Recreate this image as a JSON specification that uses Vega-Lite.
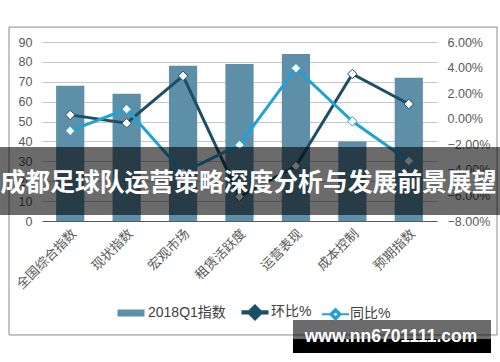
{
  "$schema": "https://vega.github.io/schema/vega-lite/v6.json",
  "width": 395,
  "height": 179,
  "autosize": {"type": "none"},
  "padding": {"left": 42, "top": 42, "right": 63, "bottom": 141},
  "background": "white",
  "config": {
    "view": {"stroke": null},
    "font": "Liberation Sans, Noto Sans CJK SC",
    "axis": {"labelFont": "Liberation Sans, Noto Sans CJK SC", "labelColor": "#595959", "titleColor": "#595959"}
  },
  "datasets": {
    "bars": [
      {"cat": "全国综合指数", "series": "2018Q1指数", "value": 68},
      {"cat": "现状指数", "series": "2018Q1指数", "value": 64},
      {"cat": "宏观市场", "series": "2018Q1指数", "value": 78},
      {"cat": "租赁活跃度", "series": "2018Q1指数", "value": 79},
      {"cat": "运营表现", "series": "2018Q1指数", "value": 84},
      {"cat": "成本控制", "series": "2018Q1指数", "value": 40},
      {"cat": "预期指数", "series": "2018Q1指数", "value": 72}
    ],
    "lines": [
      {"cat": "全国综合指数", "series": "环比%", "pct": 0.003},
      {"cat": "现状指数", "series": "环比%", "pct": -0.0035},
      {"cat": "宏观市场", "series": "环比%", "pct": 0.0335},
      {"cat": "租赁活跃度", "series": "环比%", "pct": -0.061},
      {"cat": "运营表现", "series": "环比%", "pct": -0.037},
      {"cat": "成本控制", "series": "环比%", "pct": 0.035},
      {"cat": "预期指数", "series": "环比%", "pct": 0.0115},
      {"cat": "全国综合指数", "series": "同比%", "pct": -0.0095},
      {"cat": "现状指数", "series": "同比%", "pct": 0.0075},
      {"cat": "宏观市场", "series": "同比%", "pct": -0.042},
      {"cat": "租赁活跃度", "series": "同比%", "pct": -0.0205},
      {"cat": "运营表现", "series": "同比%", "pct": 0.0395},
      {"cat": "成本控制", "series": "同比%", "pct": -0.002},
      {"cat": "预期指数", "series": "同比%", "pct": -0.033}
    ],
    "legendkeys": [
      {"series": "2018Q1指数"},
      {"series": "环比%"},
      {"series": "同比%"}
    ]
  },
  "layer": [
    {
      "data": {"values": [{}]},
      "mark": {"type": "rect", "fill": "transparent", "stroke": "#8c8c8c", "strokeWidth": 1},
      "encoding": {
        "x": {"datum": -0.0835, "type": "quantitative", "scale": {"domain": [0, 1], "nice": false, "zero": false}, "axis": null},
        "x2": {"datum": 1.1519},
        "y": {"datum": 97.5, "type": "quantitative", "scale": {"domain": [0, 90], "nice": false, "zero": false}, "axis": null},
        "y2": {"datum": -57.3}
      }
    },
    {
      "data": {"name": "legendkeys"},
      "mark": {"type": "point", "filled": false},
      "encoding": {
        "color": {
          "field": "series", "type": "nominal",
          "scale": {"domain": ["2018Q1指数", "环比%", "同比%"], "range": ["#5d8fa8", "#1b4f65", "#1fa2d8"]},
          "legend": {"title": null, "orient": "none", "legendX": 72, "legendY": 254, "direction": "horizontal", "padding": 0, "symbolSize": 729, "symbolOpacity": 1, "labelFontSize": 14, "labelColor": "#404040", "labelFont": "Liberation Sans, Noto Sans CJK SC", "labelOffset": 0, "columnPadding": 6}
        },
        "shape": {
          "field": "series", "type": "nominal",
          "scale": {"domain": ["2018Q1指数", "环比%", "同比%"], "range": ["M-1,0L1,0", "M-1,0L-0.4,0M0.4,0L1,0M-0.4,0L0,-0.4L0.4,0L0,0.4ZM-0.24,0L0,0.24L0.24,0L0,-0.24Z", "M-1,0L-0.4,0M0.4,0L1,0M-0.4,0L0,-0.4L0.4,0L0,0.4ZM-0.24,0L0,0.24L0.24,0L0,-0.24Z"]},
          "legend": {"title": null, "orient": "none", "legendX": 72, "legendY": 254, "direction": "horizontal", "padding": 0, "symbolSize": 729, "symbolOpacity": 1, "labelFontSize": 14, "labelColor": "#404040", "labelFont": "Liberation Sans, Noto Sans CJK SC", "labelOffset": 0, "columnPadding": 6}
        },
        "strokeWidth": {
          "field": "series", "type": "ordinal",
          "scale": {"domain": ["2018Q1指数", "环比%", "同比%"], "range": [7, 1.8, 1.8]},
          "legend": {"title": null, "orient": "none", "legendX": 72, "legendY": 254, "direction": "horizontal", "padding": 0, "symbolSize": 729, "symbolOpacity": 1, "labelFontSize": 14, "labelColor": "#404040", "labelFont": "Liberation Sans, Noto Sans CJK SC", "labelOffset": 0, "columnPadding": 6}
        }
      }
    },
    {
      "data": {"name": "bars"},
      "mark": {"type": "bar"},
      "encoding": {
        "x": {
          "field": "cat", "type": "nominal", "sort": null,
          "scale": {"type": "band", "domain": ["全国综合指数", "现状指数", "宏观市场", "租赁活跃度", "运营表现", "成本控制", "预期指数"], "paddingInner": 0.5, "paddingOuter": 0.25},
          "axis": {"title": null, "labelAngle": -45, "labelFontSize": 13, "labelFont": "Noto Sans CJK SC", "ticks": false, "domainColor": "#595959", "domainWidth": 1, "labelPadding": 6, "grid": false}
        },
        "y": {
          "field": "value", "type": "quantitative",
          "scale": {"domain": [0, 90], "nice": false, "zero": true},
          "axis": {"orient": "left", "title": null, "values": [0, 10, 20, 30, 40, 50, 60, 70, 80, 90], "grid": true, "gridColor": "#c6c6c6", "ticks": false, "domain": false, "labelPadding": 10, "labelFontSize": 12.5}
        },
        "color": {"field": "series", "type": "nominal", "legend": null}
      }
    },
    {
      "data": {"name": "lines"},
      "mark": {"type": "line", "strokeWidth": 3},
      "encoding": {
        "x": {
          "field": "cat", "type": "nominal", "sort": null,
          "scale": {"type": "band", "domain": ["全国综合指数", "现状指数", "宏观市场", "租赁活跃度", "运营表现", "成本控制", "预期指数"], "paddingInner": 0.5, "paddingOuter": 0.25},
          "axis": null
        },
        "y": {
          "field": "pct", "type": "quantitative",
          "scale": {"domain": [-0.08, 0.06], "nice": false, "zero": false},
          "axis": {"orient": "right", "title": null, "values": [-0.08, -0.06, -0.04, -0.02, 0, 0.02, 0.04, 0.06], "format": ".2%", "grid": false, "ticks": false, "domain": false, "labelPadding": 10, "labelFontSize": 12.5}
        },
        "color": {"field": "series", "type": "nominal", "legend": null},
        "detail": {"field": "series"}
      }
    },
    {
      "data": {"name": "lines"},
      "mark": {"type": "point", "shape": "diamond", "size": 90, "fill": "#ffffff", "fillOpacity": 1, "strokeWidth": 1, "opacity": 1},
      "encoding": {
        "x": {
          "field": "cat", "type": "nominal", "sort": null,
          "scale": {"type": "band", "domain": ["全国综合指数", "现状指数", "宏观市场", "租赁活跃度", "运营表现", "成本控制", "预期指数"], "paddingInner": 0.5, "paddingOuter": 0.25},
          "axis": null
        },
        "y": {
          "field": "pct", "type": "quantitative",
          "scale": {"domain": [-0.08, 0.06], "nice": false, "zero": false},
          "axis": null
        },
        "stroke": {"field": "series", "type": "nominal", "scale": {"domain": ["环比%", "同比%"], "range": ["#1b4f65", "#1fa2d8"]}, "legend": null}
      }
    },
    {
      "data": {"values": [{}]},
      "mark": {"type": "rect", "fill": "#000000", "opacity": 0.58},
      "encoding": {
        "x": {"datum": -0.1063, "type": "quantitative", "scale": {"domain": [0, 1], "nice": false, "zero": false}, "axis": null},
        "x2": {"datum": 1.1595},
        "y": {"datum": 37.2, "type": "quantitative", "scale": {"domain": [0, 90], "nice": false, "zero": false}, "axis": null},
        "y2": {"datum": 3.0}
      }
    },
    {
      "data": {"values": [{}]},
      "mark": {"type": "text", "align": "center", "baseline": "middle", "font": "Noto Sans CJK SC", "fontWeight": "bold", "fontSize": 24.8, "fill": "#ffffff"},
      "encoding": {
        "x": {"datum": 0.5228, "type": "quantitative", "scale": {"domain": [0, 1], "nice": false, "zero": false}, "axis": null},
        "y": {"datum": 18.8, "type": "quantitative", "scale": {"domain": [0, 90], "nice": false, "zero": false}, "axis": null},
        "text": {"value": "成都足球队运营策略深度分析与发展前景展望"}
      }
    },
    {
      "data": {"values": [{}]},
      "mark": {"type": "rect", "fill": "#000000", "opacity": 0.58},
      "encoding": {
        "x": {"datum": 0.6354, "type": "quantitative", "scale": {"domain": [0, 1], "nice": false, "zero": false}, "axis": null},
        "x2": {"datum": 1.1367},
        "y": {"datum": -49.8, "type": "quantitative", "scale": {"domain": [0, 90], "nice": false, "zero": false}, "axis": null},
        "y2": {"datum": -59.3}
      }
    },
    {
      "data": {"values": [{}]},
      "mark": {"type": "rect", "fill": "#000000", "opacity": 1},
      "encoding": {
        "x": {"datum": 0.6354, "type": "quantitative", "scale": {"domain": [0, 1], "nice": false, "zero": false}, "axis": null},
        "x2": {"datum": 1.1367},
        "y": {"datum": -59.3, "type": "quantitative", "scale": {"domain": [0, 90], "nice": false, "zero": false}, "axis": null},
        "y2": {"datum": -66.4}
      }
    },
    {
      "data": {"values": [{}]},
      "mark": {"type": "text", "align": "center", "baseline": "middle", "font": "Liberation Sans", "fontWeight": "bold", "fontSize": 17.5, "fill": "#ffffff"},
      "encoding": {
        "x": {"datum": 0.8835, "type": "quantitative", "scale": {"domain": [0, 1], "nice": false, "zero": false}, "axis": null},
        "y": {"datum": -58.3, "type": "quantitative", "scale": {"domain": [0, 90], "nice": false, "zero": false}, "axis": null},
        "text": {"value": "www.nn6701111.com"}
      }
    }
  ],
  "resolve": {"scale": {"x": "independent", "y": "independent"}, "axis": {"x": "independent", "y": "independent"}}
}
